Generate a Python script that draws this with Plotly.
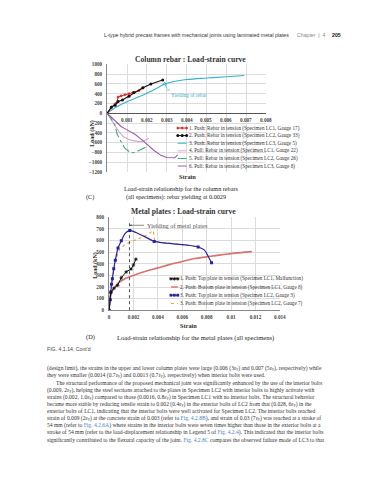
import plotly.graph_objects as go

W, H = 375, 480
def px(x): return x / W
def py(y): return 1 - y / H

SERIF = "Liberation Serif"
SANS = "Liberation Sans"

# ---------------- Data: Column rebar (C) ----------------
rebar_xticks = [0.001, 0.002, 0.003, 0.004, 0.005, 0.006, 0.007, 0.008]
rebar_xtick_labels = ["0.001", "0.002", "0.003", "0.004", "0.005", "0.006", "0.007", "0.008"]

r1_strain = [0, 0.0002, 0.0004, 0.00048, 0.00055, 0.0007, 0.0009, 0.0011, 0.0013, 0.0016, 0.0018]
r1_load = [0, 110, 190, 210, 330, 355, 380, 400, 420, 460, 520]

r2_strain = [0, 0.00022, 0.0004, 0.00055, 0.00077, 0.0011, 0.00135, 0.0018, 0.0022, 0.0028]
r2_load = [0, 130, 165, 240, 270, 350, 425, 520, 600, 680]

r3_strain = [0, 0.0005, 0.001, 0.0015, 0.002, 0.0025, 0.0029, 0.0035, 0.004, 0.005, 0.006, 0.0069]
r3_load = [0, 140, 235, 320, 410, 510, 600, 660, 690, 720, 745, 770]

r4_strain = [0, 0.0002, 0.0004, 0.0006, 0.0008, 0.001, 0.0013, 0.0016, 0.0018, 0.002, 0.0021]
r4_load = [0, -120, -250, -380, -470, -520, -560, -580, -575, -540, -510]

r5_strain = [0, 0.0002, 0.0004, 0.0005, 0.0007, 0.0009, 0.0012, 0.0014, 0.0017, 0.002]
r5_load = [0, -110, -250, -420, -580, -720, -810, -800, -740, -680]

r6_strain = [0, 0.0003, 0.0007, 0.001, 0.0014, 0.0018, 0.0023, 0.0027, 0.003, 0.0034, 0.00355]
r6_load = [0, -120, -270, -340, -430, -560, -740, -860, -905, -910, -850]

rebar_yield_strain = [0.0029]
rebar_yield_load = [600]

rebar_names = [
    "1. Push: Rebar in tension (Specimen LC1, Gauge 17)",
    "2. Push: Rebar in tension (Specimen LC2, Gauge 33)",
    "3. Push: Rebar in tension (Specimen LC3, Gauge 5)",
    "4. Pull: Rebar in tension (Specimen LC1, Gauge 22)",
    "5. Pull: Rebar in tension (Specimen LC2, Gauge 26)",
    "6. Pull: Rebar in tension (Specimen LC3, Gauge 8)",
]

# ---------------- Data: Metal plates (D) ----------------
plate_xticks = [0, 0.002, 0.004, 0.006, 0.008, 0.01, 0.012, 0.014]
plate_xtick_labels = ["0", "0.002", "0.004", "0.006", "0.008", "0.01", "0.012", "0.014"]

p1_strain = [0, 0.00012, 0.0004, 0.0007, 0.001, 0.0014, 0.0018, 0.002, 0.0022]
p1_load = [0, 150, 190, 215, 280, 330, 355, 390, 440]

p2_strain = [0, 0.00005, 0.0001, 0.0003, 0.0007, 0.0012, 0.002, 0.003, 0.004, 0.005, 0.006, 0.007, 0.008, 0.009, 0.01, 0.0117]
p2_load = [0, 80, 120, 170, 230, 265, 300, 335, 365, 395, 420, 445, 460, 475, 488, 505]

p3_strain = [0, 0.0001, 0.00015, 0.0002, 0.00027, 0.00038, 0.00051, 0.00073, 0.001, 0.0013, 0.0017, 0.0022, 0.003, 0.0037, 0.0045, 0.0055, 0.0065, 0.0073, 0.0078, 0.0081, 0.0084]
p3_load = [0, 90, 160, 224, 272, 357, 431, 536, 598, 660, 688, 670, 630, 593, 580, 570, 560, 545, 520, 470, 408]
p3_mark_strain = [0, 0.0001, 0.00015, 0.0002, 0.00027, 0.00038, 0.00051, 0.00073, 0.001, 0.0017, 0.0037, 0.0073, 0.0084]
p3_mark_load = [0, 90, 160, 224, 272, 357, 431, 536, 598, 688, 593, 545, 408]

p4_strain = [0, 0.0001, 0.0002, 0.0004, 0.0006, 0.0009, 0.0013, 0.0018, 0.0024, 0.003, 0.0034, 0.0036, 0.0037, 0.0038, 0.0045, 0.0055, 0.0065, 0.0073]
p4_load = [0, 150, 230, 350, 450, 530, 565, 590, 615, 645, 670, 688, 620, 593, 582, 571, 559, 545]

plate_yield_strain = 0.00167
plate_yield_top = 760
plate_yield_arrow = 732

plate_names = [
    "1. Push: Top plate in tension (Specimen LC1, Malfunction)",
    "2. Push: Bottom plate in tension (Specimen LC1, Gauge 8)",
    "3. Push: Top plate in tension (Specimen LC2, Gauge 3)",
    "3. Push: Bottom plate in tension (Specimen LC2, Gauge 7)",
]

# ---------------- Colours ----------------
C_RED = "#e02a24"
C_BLACK = "#111111"
C_CYAN = "#35b2cf"
C_PINK = "#e3a3cf"
C_GREEN = "#3dae6e"
C_PURPLE = "#9c5bb5"
P_BLACK = "#111111"
P_RED = "#d8726c"
P_BLUE = "#24249f"
P_ORANGE = "#e8a33c"

fig = go.Figure()

# ---- column rebar traces
fig.add_trace(go.Scatter(x=r3_strain, y=r3_load, mode="lines", line=dict(color=C_CYAN, width=1.1, shape="spline"), xaxis="x", yaxis="y"))
fig.add_trace(go.Scatter(x=r1_strain, y=r1_load, mode="lines+markers", line=dict(color=C_RED, width=1.1), marker=dict(symbol="diamond", size=2.5, color=C_RED), xaxis="x", yaxis="y"))
fig.add_trace(go.Scatter(x=r2_strain, y=r2_load, mode="lines+markers", line=dict(color=C_BLACK, width=1.1), marker=dict(symbol="circle", size=3, color=C_BLACK), xaxis="x", yaxis="y"))
fig.add_trace(go.Scatter(x=r4_strain, y=r4_load, mode="lines", line=dict(color=C_PINK, width=1.1), xaxis="x", yaxis="y"))
fig.add_trace(go.Scatter(x=r5_strain, y=r5_load, mode="lines", line=dict(color=C_GREEN, width=1.1, dash="dashdot"), xaxis="x", yaxis="y"))
fig.add_trace(go.Scatter(x=r6_strain, y=r6_load, mode="lines", line=dict(color=C_PURPLE, width=1.1), xaxis="x", yaxis="y"))
fig.add_trace(go.Scatter(x=rebar_yield_strain, y=rebar_yield_load, mode="markers", marker=dict(symbol="triangle-up-open", size=3.5, color=C_CYAN, line=dict(width=0.8)), xaxis="x", yaxis="y"))

# ---- metal plate traces
fig.add_trace(go.Scatter(x=p2_strain, y=p2_load, mode="lines", line=dict(color=P_RED, width=1.6, shape="spline"), xaxis="x2", yaxis="y2"))
fig.add_trace(go.Scatter(x=p4_strain, y=p4_load, mode="lines", line=dict(color=P_ORANGE, width=1.1, dash="dot", shape="spline", smoothing=0.6), xaxis="x2", yaxis="y2"))
fig.add_trace(go.Scatter(x=p3_strain, y=p3_load, mode="lines", line=dict(color=P_BLUE, width=1.2, shape="spline", smoothing=0.6), xaxis="x2", yaxis="y2"))
fig.add_trace(go.Scatter(x=p3_mark_strain, y=p3_mark_load, mode="markers", marker=dict(symbol="square", size=3, color=P_BLUE), xaxis="x2", yaxis="y2"))
fig.add_trace(go.Scatter(x=p1_strain, y=p1_load, mode="lines+markers", line=dict(color=P_BLACK, width=1), marker=dict(symbol="asterisk-open", size=3, color=P_BLACK, line=dict(width=0.8, color=P_BLACK)), xaxis="x2", yaxis="y2"))

# ---- legend samples on a pixel overlay axis
top_leg_y = [118.5, 126.2, 133.9, 141.6, 149.3, 157.0]
top_leg_styles = [
    dict(line=dict(color=C_RED, width=1), marker=dict(symbol="diamond", size=2.5, color=C_RED), mode="lines+markers"),
    dict(line=dict(color=C_BLACK, width=1), marker=dict(symbol="circle", size=3, color=C_BLACK), mode="lines+markers"),
    dict(line=dict(color=C_CYAN, width=1), mode="lines"),
    dict(line=dict(color=C_PINK, width=1), mode="lines"),
    dict(line=dict(color=C_GREEN, width=1, dash="dashdot"), mode="lines"),
    dict(line=dict(color=C_PURPLE, width=1), mode="lines"),
]
for yy, st, name in zip(top_leg_y, top_leg_styles, rebar_names):
    fig.add_trace(go.Scatter(x=[172, 176.5, 181], y=[yy, yy, yy], xaxis="x3", yaxis="y3", **st))
    fig.add_annotation(x=px(181.5), y=py(yy), xref="paper", yref="paper", xanchor="left", yanchor="middle",
                       text=name, showarrow=False, font=dict(family=SERIF, size=5.2, color="#333"))

bot_leg_y = [271.2, 279.5, 287.8, 296.1]
bot_leg_styles = [
    dict(line=dict(color=P_BLACK, width=1), marker=dict(symbol="asterisk-open", size=3, color=P_BLACK, line=dict(width=0.8, color=P_BLACK)), mode="lines+markers"),
    dict(line=dict(color=P_RED, width=1.4), mode="lines"),
    dict(line=dict(color=P_BLUE, width=1), marker=dict(symbol="square", size=2.8, color=P_BLUE), mode="lines+markers"),
    dict(line=dict(color=P_ORANGE, width=1, dash="dot"), mode="lines"),
]
for yy, st, name in zip(bot_leg_y, bot_leg_styles, plate_names):
    fig.add_trace(go.Scatter(x=[165, 168.5, 172], y=[yy, yy, yy], xaxis="x3", yaxis="y3", **st))
    fig.add_annotation(x=px(172.5), y=py(yy), xref="paper", yref="paper", xanchor="left", yanchor="middle",
                       text=name, showarrow=False, font=dict(family=SERIF, size=5.2, color="#333"))

# ---- x tick labels on the zero line of the rebar chart
for v, lab in zip(rebar_xticks, rebar_xtick_labels):
    fig.add_annotation(x=v, y=0, xref="x", yref="y", yanchor="top", yshift=-2, text=lab, showarrow=False,
                       font=dict(family=SERIF, size=5.2, color="#444", weight="bold"))

# ---- yield markers
fig.add_annotation(x=rebar_yield_strain[0], y=rebar_yield_load[0], xref="x", yref="y", ax=3, ay=6,
                   text="", showarrow=True, arrowhead=0, arrowwidth=0.7, arrowcolor=C_CYAN)
fig.add_annotation(x=px(163.5), y=py(80), xref="paper", yref="paper", xanchor="left", text="Yielding of rebar",
                   showarrow=False, font=dict(family=SERIF, size=5.2, color=C_CYAN))
fig.add_shape(type="line", x0=px(161), x1=px(164), y0=py(80), y1=py(80), xref="paper", yref="paper",
              line=dict(color=C_CYAN, width=0.7))

fig.add_shape(type="line", x0=plate_yield_strain, x1=plate_yield_strain, y0=0, y1=plate_yield_top,
              xref="x2", yref="y2", line=dict(color="#222", width=0.8, dash="dot"))
fig.add_annotation(x=plate_yield_strain, y=plate_yield_arrow, xref="x2", yref="y2", ax=16, ay=0,
                   text="", showarrow=True, arrowhead=2, arrowsize=0.6, arrowwidth=0.7, arrowcolor="#555")
fig.add_annotation(x=px(139), y=py(217), xref="paper", yref="paper", xanchor="left",
                   text="Yielding of metal plates", showarrow=False, font=dict(family=SERIF, size=6.3, color="#555"))

# ---- titles, axis titles, captions
def txt(x, y, s, size, color="#222", family=SERIF, anchor="center", bold=False):
    fig.add_annotation(x=px(x), y=py(y), xref="paper", yref="paper", xanchor=anchor, yanchor="middle",
                       text=s, showarrow=False,
                       font=dict(family=family, size=size, color=color, weight="bold" if bold else "normal"))

txt(185, 49, "Column rebar : Load-strain curve", 7.6, "#333", bold=True)
txt(182, 168, "Strain", 6.3, "#333", bold=True)
txt(176, 180, "Load-strain relationship for the column rebars", 6.2, "#222")
txt(170, 188.5, "(all specimens): rebar yielding at 0.0029", 6.2, "#222")
txt(83, 188.5, "(C)", 6.2, "#222")
fig.add_annotation(x=px(79.5), y=py(108), xref="paper", yref="paper", text="Load (kN)", textangle=-90, showarrow=False,
                   font=dict(family=SERIF, size=6, color="#333", weight="bold"))

txt(178, 203.5, "Metal plates : Load-strain curve", 7.6, "#333", bold=True)
txt(183, 318, "Strain", 6.3, "#333", bold=True)
txt(190, 331, "Load-strain relationship for the metal plates (all specimens)", 6.6, "#222")
txt(83, 330, "(D)", 6.4, "#222")
fig.add_annotation(x=px(83), y=py(257), xref="paper", yref="paper", text="Load (kN)", textangle=-90, showarrow=False,
                   font=dict(family=SERIF, size=6, color="#333", weight="bold"))
txt(37, 342, "FIG. 4.1.14, Cont'd", 5.2, "#444", family=SANS, anchor="left")

# ---- page header
txt(95, 24, "L-type hybrid precast frames with mechanical joints using laminated metal plates", 5.2, "#333", family=SANS, anchor="left")
txt(291, 24, "Chapter  |  4", 5.2, "#888", family=SANS, anchor="left")
txt(327, 24, "205", 5.2, "#111", family=SANS, anchor="left", bold=True)

# ---- body text
LINK = "#4a84c4"
def ln(s):
    return s.replace("[", f"<span style='color:{LINK}'>").replace("]", "</span>")
EY = "ε<span style='font-size:4px'>y</span>"
body = [
    f"(design limit), the strains in the upper and lower column plates were large (0.006 (3{EY}) and 0.007 (5{EY}), respectively) while",
    f"they were smaller (0.0014 (0.7{EY}) and 0.0013 (0.7{EY}), respectively) when interior bolts were used.",
    "The structural performance of the proposed mechanical joint was significantly enhanced by the use of the interior bolts",
    f"(0.009, 2{EY}), helping the steel sections attached to the plates in Specimen LC2 with interior bolts to highly activate with",
    f"strains (0.002, 1.0{EY}) compared to those (0.0016, 0.8{EY}) in Specimen LC1 with no interior bolts. The structural behavior",
    f"became more stable by reducing tensile strain to 0.002 (0.4{EY}) in the exterior bolts of LC2 from that (0.028, 6{EY}) in the",
    "exterior bolts of LC1, indicating that the interior bolts were well activated for Specimen LC2. The interior bolts reached",
    f"strain of 0.009 (2{EY}) at the concrete strain of 0.003 (refer to [Fig. 4.2.8B]), and strain of 0.03 (7{EY}) was reached at a stroke of",
    "54 mm (refer to [Fig. 4.2.6A]) where strains in the interior bolts were seven times higher than those in the exterior bolts at a",
    "stroke of 54 mm (refer to the load-displacement relationship in Legend 5 of [Fig. 4.2.4]). This indicated that the interior bolts",
    "significantly contributed to the flexural capacity of the joint. [Fig. 4.2.8C] compares the observed failure mode of LC3 to that",
]
body_y0 = 362.3
for i, s in enumerate(body):
    x0 = 45.5 if i == 2 else 37
    txt(x0, body_y0 + i * 7.2, ln(s), 5.6, "#333", anchor="left")

grid = "#dcdcdc"
tickfont = dict(family=SERIF, size=5.2, color="#444", weight="bold")
fig.update_layout(
    width=W, height=H, margin=dict(l=0, r=0, t=0, b=0),
    paper_bgcolor="white", plot_bgcolor="rgba(0,0,0,0)", showlegend=False,
    xaxis=dict(domain=[px(100), px(262)], range=[0, 0.008], dtick=0.001, tick0=0, showgrid=True, gridcolor=grid,
               gridwidth=0.6, showticklabels=False, zeroline=False, showline=False, anchor="y", fixedrange=True),
    yaxis=dict(domain=[py(163), py(54)], range=[-1200, 1000], dtick=200, tick0=0, showgrid=True, gridcolor=grid,
               gridwidth=0.6, zeroline=True, zerolinecolor="#555", zerolinewidth=1, showline=True, linecolor="#888",
               linewidth=0.8, tickfont=tickfont, ticks="", ticklabelstandoff=3, anchor="x", fixedrange=True),
    xaxis2=dict(domain=[px(102), px(276)], range=[0, 0.014], tickvals=plate_xticks, ticktext=plate_xtick_labels,
                showgrid=True, gridcolor=grid, gridwidth=0.6, zeroline=False, showline=True, linecolor="#888",
                linewidth=0.8, tickfont=tickfont, ticks="", ticklabelstandoff=2, anchor="y2", fixedrange=True),
    yaxis2=dict(domain=[py(303), py(209)], range=[0, 800], dtick=100, tick0=0, showgrid=True, gridcolor=grid,
                gridwidth=0.6, zeroline=False, showline=True, linecolor="#888", linewidth=0.8, tickfont=tickfont,
                ticks="", ticklabelstandoff=3, anchor="x2", fixedrange=True),
    xaxis3=dict(domain=[0, 1], range=[0, W], visible=False, anchor="y3", fixedrange=True),
    yaxis3=dict(domain=[0, 1], range=[H, 0], visible=False, anchor="x3", fixedrange=True),
)

fig.write_html("out.html")
